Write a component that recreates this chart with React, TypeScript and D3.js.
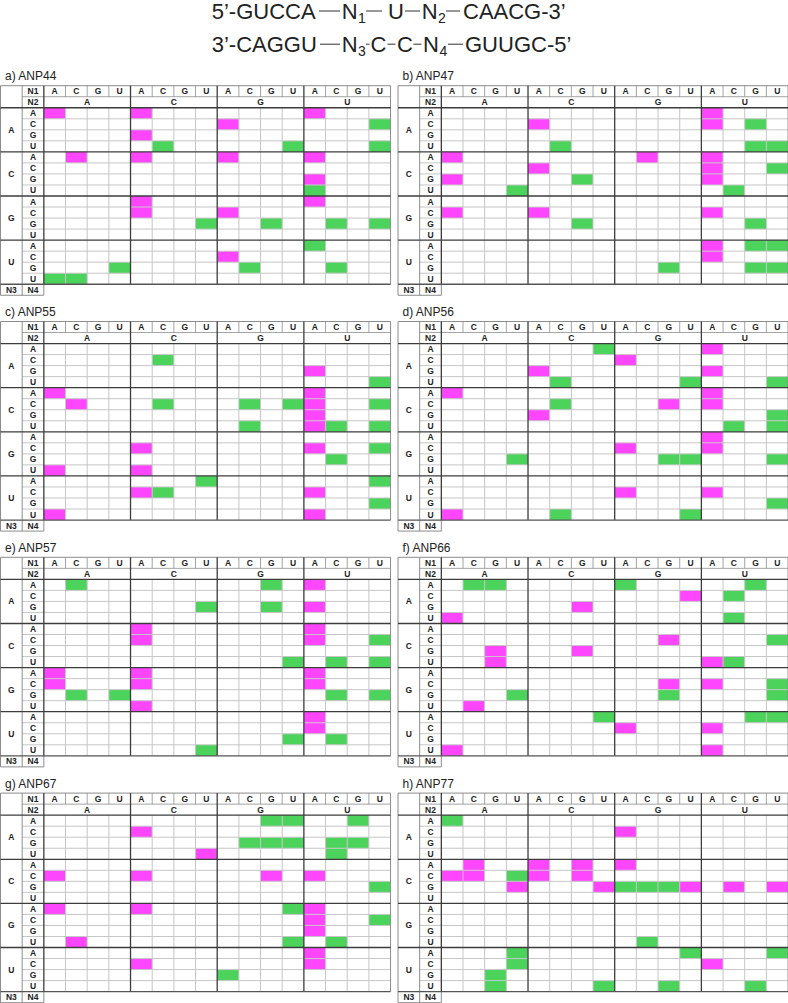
import React from "react";
import * as d3 from "d3";

// ---------- data ----------
const BASES = ["A", "C", "G", "U"];
const PANEL_TITLES = ["a) ANP44", "b) ANP47", "c) ANP55", "d) ANP56", "e) ANP57", "f) ANP66", "g) ANP67", "h) ANP77"];

// rows: N3 (A,C,G,U) x N4 (A,C,G,U); columns: N2 (A,C,G,U) x N1 (A,C,G,U)
// '.' = empty, 'm' = magenta, 'g' = green
const anp44 = [
  "m...m.......m...", "........m......g", "....m...........", ".....g.....g...g",
  ".m..m...m...m...", "................", "............m...", "............g...",
  "....m.......m...", "....m...m.......", ".......g..g..g.g", "................",
  "............g...", "........m.......", "...g.....g...g..", "gg..............",
];
const anp47 = [
  "............m...", "....m.......m.g.", "................", ".....g........gg",
  "m........m..m...", "....m.......m..g", "m.....g.....m...", "...g.........g..",
  "................", "m...m.......m...", "......g.......g.", "................",
  "............m.gg", "............m...", "..........g...gg", "................",
];
const anp55 = [
  "................", ".....g..........", "............m...", "...............g",
  "m...........m...", ".m...g...g.gm..g", "............m...", ".........g..mg.g",
  "................", "....m.......m..g", ".............g..", "m...m...........",
  ".......g.......g", "....mg......m...", "...............g", "m...........m...",
];
const anp56 = [
  ".......g....m...", "........m.......", "....m.......m...", ".....g.....g...g",
  "m...........m...", ".....g....m.m...", "....m..........g", ".............g.g",
  "............m...", "........m...m...", "...g......gg...g", "................",
  "................", "........m...m...", "...............g", "m....g.....g....",
];
const anp57 = [
  ".g........g.m...", "................", ".......g..g.m...", "................",
  "....m.......m...", "....m.......m..g", "................", "...........g.g.g",
  "m...m.......m...", "m...m.......m...", ".g.g.........g.g", "....m...........",
  "............m...", "............m...", "...........g.g..", ".......g........",
];
const anp66 = [
  ".gg.....g.....g.", "...........m.g..", "......m.........", "m............g..",
  "................", "..........m....g", "..m...m.........", "..m.........mg..",
  "................", "..........m.m..g", "...g......g....g", ".m..............",
  ".......g......gg", "........m...m...", "................", "m...........m...",
];
const anp67 = [
  "..........gg..g.", "....m...........", ".........ggg.gg.", ".......m.....g..",
  "................", "m...m.....m.m...", "...............g", "................",
  "m...m......gm...", "............m..g", "............m...", ".m.........g.g..",
  "............m...", "....m.......m...", "........g.......", "................",
];
const anp77 = [
  "g...............", "........m.......", "................", "................",
  ".m..m.m.m.......", "mm.gm.m.........", "...m...mgggm.m.m", "................",
  "................", "................", "................", ".........g......",
  "...g.......g...g", "...g........m...", "..g.............", "..g....g..g...g.",
];
const PANEL_DATA = [anp44, anp47, anp55, anp56, anp57, anp66, anp67, anp77];

const COLOR_OF: Record<string, string> = { m: "#ff46ff", g: "#4bd35c" };

// ---------- layout ----------
const CW = 21.67;
const RH = 11.03;
const PANEL_X = [0.5, 398];
const PANEL_Y0 = 85.7;
const PANEL_DY = 235.8;

const DARK = "#3c3c3c";
const MID = "#8c8c8c";
const LIGHT = "#c6c6c6";
const FONT = "'Liberation Sans', Arial, Helvetica, sans-serif";

const colKeys = BASES.flatMap((n2) => BASES.map((n1) => n2 + n1));
const rowKeys = BASES.flatMap((n3) => BASES.map((n4) => n3 + n4));

function Panel({ title, rows, x0, y0 }: { title: string; rows: string[]; x0: number; y0: number }) {
  const x = d3.scaleBand<string>().domain(colKeys).range([2 * CW, 18 * CW]);
  const y = d3.scaleBand<string>().domain(rowKeys).range([2 * RH, 18 * RH]);
  const bw = x.bandwidth();
  const bh = y.bandwidth();
  const gridR = 18 * CW;
  const gridT = 2 * RH;
  const gridB = 18 * RH;

  const cells: React.ReactNode[] = [];
  rows.forEach((row, ri) => {
    row.split("").forEach((ch, ci) => {
      if (COLOR_OF[ch]) {
        cells.push(
          <rect key={`c${ri}-${ci}`} x={x(colKeys[ci])!} y={y(rowKeys[ri])!} width={bw} height={bh} fill={COLOR_OF[ch]} />
        );
      }
    });
  });

  const lines: React.ReactNode[] = [];
  rowKeys.forEach((k, i) => {
    if (i % 4 !== 0) {
      const yy = y(k)!;
      lines.push(<line key={`h${i}`} x1={CW} x2={gridR} y1={yy} y2={yy} stroke={LIGHT} strokeWidth={1} />);
    }
  });
  colKeys.forEach((k, i) => {
    if (i % 4 !== 0) {
      const xx = x(k)!;
      lines.push(<line key={`v${i}`} x1={xx} x2={xx} y1={gridT} y2={gridB} stroke={LIGHT} strokeWidth={1} />);
      lines.push(<line key={`vh${i}`} x1={xx} x2={xx} y1={0} y2={RH} stroke={MID} strokeWidth={0.8} />);
    }
  });
  lines.push(<line key="top" x1={0} x2={gridR} y1={0} y2={0} stroke={MID} strokeWidth={1} />);
  lines.push(<line key="mid" x1={CW} x2={gridR} y1={RH} y2={RH} stroke={MID} strokeWidth={0.8} />);
  lines.push(<line key="left" x1={0} x2={0} y1={0} y2={gridB + RH} stroke={MID} strokeWidth={1} />);
  lines.push(<line key="ncol" x1={CW} x2={CW} y1={0} y2={gridB + RH} stroke={MID} strokeWidth={1} />);
  lines.push(<line key="right" x1={gridR} x2={gridR} y1={0} y2={gridB} stroke={MID} strokeWidth={1} />);
  lines.push(<line key="bot" x1={0} x2={2 * CW} y1={gridB + RH} y2={gridB + RH} stroke={MID} strokeWidth={1} />);
  lines.push(<line key="botr" x1={2 * CW} x2={2 * CW} y1={gridB} y2={gridB + RH} stroke={MID} strokeWidth={1} />);
  [0, 4, 8, 12].forEach((i) => {
    const xx = x(colKeys[i])!;
    lines.push(<line key={`dv${i}`} x1={xx} x2={xx} y1={0} y2={gridB} stroke={DARK} strokeWidth={1.3} />);
  });
  [0, 4, 8, 12, 16].forEach((i) => {
    const yy = i < 16 ? y(rowKeys[i])! : gridB;
    lines.push(
      <line key={`dh${i}`} x1={0} x2={gridR} y1={yy} y2={yy} stroke={i === 16 ? "#555" : DARK} strokeWidth={1.3} />
    );
  });

  const labelStyle = { fontFamily: FONT, fontWeight: 700, fontSize: 8.5, fill: "#222" } as const;
  const labels: React.ReactNode[] = [];
  labels.push(<text key="n1" x={CW * 1.5} y={RH / 2 + 3} textAnchor="middle" {...labelStyle}>N1</text>);
  labels.push(<text key="n2" x={CW * 1.5} y={RH * 1.5 + 3} textAnchor="middle" {...labelStyle}>N2</text>);
  labels.push(<text key="n3" x={CW * 0.5} y={gridB + RH / 2 + 3} textAnchor="middle" {...labelStyle}>N3</text>);
  labels.push(<text key="n4" x={CW * 1.5} y={gridB + RH / 2 + 3} textAnchor="middle" {...labelStyle}>N4</text>);
  colKeys.forEach((k) => {
    labels.push(
      <text key={`l1${k}`} x={x(k)! + bw / 2} y={RH / 2 + 3} textAnchor="middle" {...labelStyle}>{k[1]}</text>
    );
  });
  BASES.forEach((b, i) => {
    const xs = x(colKeys[i * 4])! + bw * 2;
    labels.push(<text key={`l2${b}`} x={xs} y={RH * 1.5 + 3} textAnchor="middle" {...labelStyle}>{b}</text>);
    const ys = y(rowKeys[i * 4])! + bh * 2;
    labels.push(<text key={`l3${b}`} x={CW / 2} y={ys + 3} textAnchor="middle" {...labelStyle}>{b}</text>);
  });
  rowKeys.forEach((k) => {
    labels.push(
      <text key={`l4${k}`} x={CW * 1.5} y={y(k)! + bh / 2 + 3} textAnchor="middle" {...labelStyle}>{k[1]}</text>
    );
  });

  return (
    <g transform={`translate(${x0},${y0})`}>
      <text x={4.5} y={-5.4} fontFamily={FONT} fontSize={12} fill="#222">{title}</text>
      <rect x={0} y={0} width={gridR} height={gridB} fill="#fff" />
      {cells}
      {lines}
      {labels}
    </g>
  );
}

function Header() {
  const big = { fontFamily: FONT, fontSize: 22, fill: "#222" } as const;
  const sub = { fontFamily: FONT, fontSize: 14, fill: "#222" } as const;
  const b1 = 18.5;
  const b2 = 51.7;
  const l1 = b1 - 7.5;
  const l2 = b2 - 7.5;
  const ln = (k: string, xa: number, xb: number, yy: number) => (
    <line key={k} x1={xa} x2={xb} y1={yy} y2={yy} stroke="#333" strokeWidth={1} />
  );
  return (
    <g>
      <text x={211.7} y={b1} {...big}>5’-GUCCA</text>
      {ln("a1", 319, 340, l1)}
      <text x={341.7} y={b1} {...big}>N</text>
      <text x={358} y={b1 + 4} {...sub}>1</text>
      {ln("a2", 366, 382, l1)}
      <text x={388} y={b1} {...big}>U</text>
      {ln("a3", 405, 420, l1)}
      <text x={421.7} y={b1} {...big}>N</text>
      <text x={438} y={b1 + 4} {...sub}>2</text>
      {ln("a4", 446, 460, l1)}
      <text x={463} y={b1} {...big}>CAACG-3’</text>

      <text x={211.7} y={b2} {...big}>3’-CAGGU</text>
      {ln("b1", 320, 340, l2)}
      <text x={341.7} y={b2} {...big}>N</text>
      <text x={358} y={b2 + 4} {...sub}>3</text>
      {ln("b2", 366, 369.5, l2)}
      <text x={370.5} y={b2} {...big}>C</text>
      {ln("b3", 387.5, 395.5, l2)}
      <text x={397} y={b2} {...big}>C</text>
      {ln("b4", 413.5, 421.5, l2)}
      <text x={423} y={b2} {...big}>N</text>
      <text x={439.5} y={b2 + 4} {...sub}>4</text>
      {ln("b5", 448, 463, l2)}
      <text x={465} y={b2} {...big}>GUUGC-5’</text>
    </g>
  );
}

export default function App() {
  return (
    <svg width={788} height={1003} style={{ position: "absolute", left: 0, top: 0, background: "#fff" }}>
      <rect x={0} y={0} width={788} height={1003} fill="#fff" />
      <Header />
      {PANEL_DATA.map((rows, i) => (
        <Panel
          key={i}
          title={PANEL_TITLES[i]}
          rows={rows}
          x0={PANEL_X[i % 2]}
          y0={PANEL_Y0 + Math.floor(i / 2) * PANEL_DY}
        />
      ))}
    </svg>
  );
}
